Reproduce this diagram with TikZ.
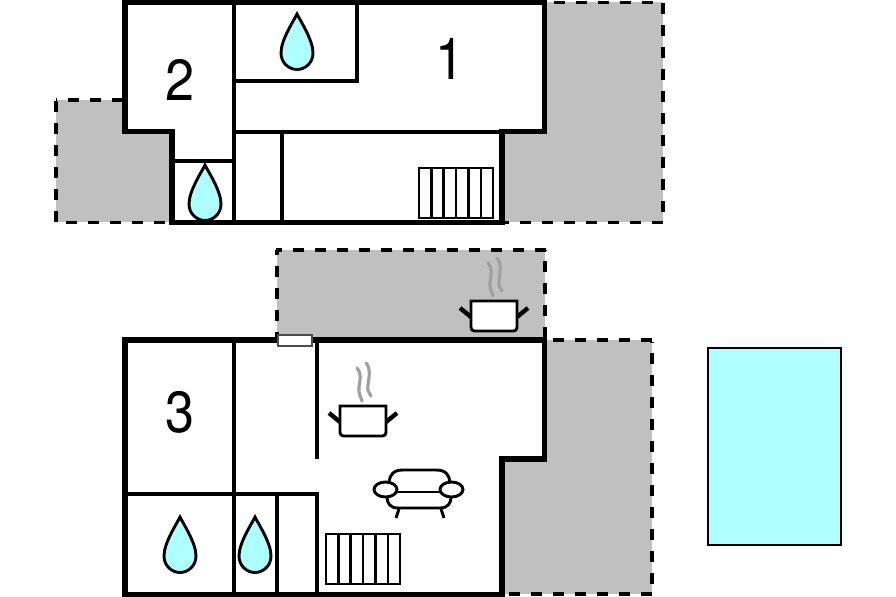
\documentclass[tikz,border=0pt]{standalone}
\usepackage{fontspec}
\setmainfont{TeX Gyre Heros}
\newfontfamily\roomfont[FakeStretch=0.9]{TeX Gyre Heros}
\usepackage{xcolor}
\usepackage{tikz}
\definecolor{terrace}{HTML}{C0C0C0}
\definecolor{water}{HTML}{AEFFFF}
\definecolor{steam}{HTML}{A0A0A0}
\tikzset{
	wall/.style={line width=3pt,line join=miter},
	inner/.style={line width=1.9pt},
	border/.style={line width=2pt,dash pattern=on 6.4pt off 6.1pt},
	furn/.style={line width=1.65pt},
	fume/.style={line width=1.8pt,draw=steam,line cap=round},
	handle/.style={line width=2.5pt},
	roomno/.style={font=\roomfont\fontsize{33}{33}\selectfont,inner sep=0pt},
}
% tip of the drop at #1,#2
\newcommand{\waterdrop}[2]{
	\draw[furn,fill=water,shift={(#1,#2)}] (0,0) .. controls (-4,8) and (-16,26) .. (-16,39)
		.. controls (-16,49) and (-8,55.5) .. (0,55.5) .. controls (8,55.5) and (16,49) .. (16,39)
		.. controls (16,26) and (4,8) .. (0,0) -- cycle;
}
% top left corner of the radiator at #1,#2
\newcommand{\radiator}[2]{
	\draw[furn,shift={(#1,#2)}] (0,0) rectangle (74,50);
	\draw[furn,shift={(#1,#2)}] (12.5,0) -- (12.5,50);
	\draw[furn,shift={(#1,#2)}] (24.5,0) -- (24.5,50);
	\draw[furn,shift={(#1,#2)}] (37,0) -- (37,50);
	\draw[furn,shift={(#1,#2)}] (49.5,0) -- (49.5,50);
	\draw[furn,shift={(#1,#2)}] (62,0) -- (62,50);
}
% top left corner of the pot at #1,#2
\newcommand{\cookpot}[2]{
	\draw[handle,shift={(#1,#2)}] (-11,7) -- (0,16);
	\draw[handle,shift={(#1,#2)}] (57,7) -- (46,16);
	\draw[furn,fill=white,shift={(#1,#2)}] (0,0) [rounded corners=2pt] -- (0,30) -- (46,30) [sharp corners] -- (46,0) -- cycle;
	\draw[fume,shift={(#1,#2)}] (17,-38) .. controls (22,-33) and (20,-26) .. (19,-19) .. controls (18,-13) and (21,-9) .. (22,-5);
	\draw[fume,shift={(#1,#2)}] (26,-43) .. controls (31,-38) and (29,-28) .. (28,-21) .. controls (27,-16) and (29,-13) .. (31,-10);
}

\begin{document}
\begin{tikzpicture}[x=0.02cm,y=-0.02cm]
	\useasboundingbox (0,0) rectangle (896,597);
	% terraces
	\fill[terrace] (545,2.5) rectangle (663,222.5);
	\fill[terrace] (502,132) rectangle (545,222.5);
	\fill[terrace] (56,100) rectangle (172,222.5);
	\fill[terrace] (277,250) rectangle (545,340);
	\fill[terrace] (545,340) rectangle (652,594);
	\fill[terrace] (502,459) rectangle (545,594);
	\draw[border] (653,2.5) -- (548,2.5);
	\draw[border] (663,212) -- (663,2.5);
	\draw[border] (663,222.5) -- (505,222.5);
	\draw[border] (123,100) -- (56,100);
	\draw[border] (56,101) -- (56,222);
	\draw[border] (66,222.5) -- (172,222.5);
	\draw[border] (546,250) -- (276,250);
	\draw[border] (277,343) -- (277,250);
	\draw[border] (545,338) -- (545,250);
	\draw[border] (652,340) -- (548,340);
	\draw[border] (652,584) -- (652,342);
	\draw[border] (652,594) -- (505,594);
	% upper floor
	\fill[white] (125,2.5) -- (544.5,2.5) -- (544.5,131.5) -- (502,131.5) -- (502,222.5) -- (172,222.5) -- (172,131.5) -- (125,131.5) -- cycle;
	\draw[inner] (234,2.5) -- (234,222);
	\draw[inner] (234,81) -- (357,81) -- (357,2.5);
	\draw[inner] (234,132) -- (502,132);
	\draw[inner] (282,132) -- (282,222);
	\draw[inner] (172,161) -- (234,161);
	\draw[wall] (125,2.5) -- (544.5,2.5) -- (544.5,131.5) -- (502,131.5) -- (502,222.5) -- (172,222.5) -- (172,131.5) -- (125,131.5) -- cycle;
	\radiator{419}{168}
	\waterdrop{297}{14}
	\waterdrop{205}{165}
	\node[roomno] (one) at (450,59) {1};
	\node[roomno] (two) at (180.5,80) {2};
	% lower floor
	\fill[white] (125,340) -- (544.5,340) -- (544.5,459) -- (502,459) -- (502,594.5) -- (125,594.5) -- cycle;
	\draw[inner] (234,340) -- (234,594);
	\draw[inner] (317,340) -- (317,459);
	\draw[inner] (125,494) -- (317,494) -- (317,594);
	\draw[inner] (277,494) -- (277,594);
	\draw[wall] (125,340) -- (544.5,340) -- (544.5,459) -- (502,459) -- (502,594.5) -- (125,594.5) -- cycle;
	\draw[line width=0.9pt,draw=black!70,fill=white] (278,335) rectangle (312,346);
	\radiator{326}{534}
	\waterdrop{180}{517}
	\waterdrop{255}{517}
	\cookpot{471}{301}
	\cookpot{340}{406}
	\node[roomno] (three) at (180.5,412) {3};
	% sofa
	\draw[furn] (389,482) .. controls (390,475) and (393,470) .. (403,470) -- (436,470) .. controls (446,470) and (449,475) .. (450,482);
	\draw[furn] (397,492) -- (440,492);
	\draw[furn] (387,497) .. controls (387,503) and (390,508) .. (398,508) -- (440,508) .. controls (448,508) and (451,503) .. (451,497);
	\draw[furn] (399,509) -- (396,518);
	\draw[furn] (441,509) -- (444,518);
	\draw[furn,fill=white] (385.5,489.5) ellipse (11.5 and 7.5);
	\draw[furn,fill=white] (451.5,489.5) ellipse (11.5 and 7.5);
	% pool
	\draw[line width=1.1pt,fill=water] (708,348) rectangle (841,545);
\end{tikzpicture}
\end{document}
